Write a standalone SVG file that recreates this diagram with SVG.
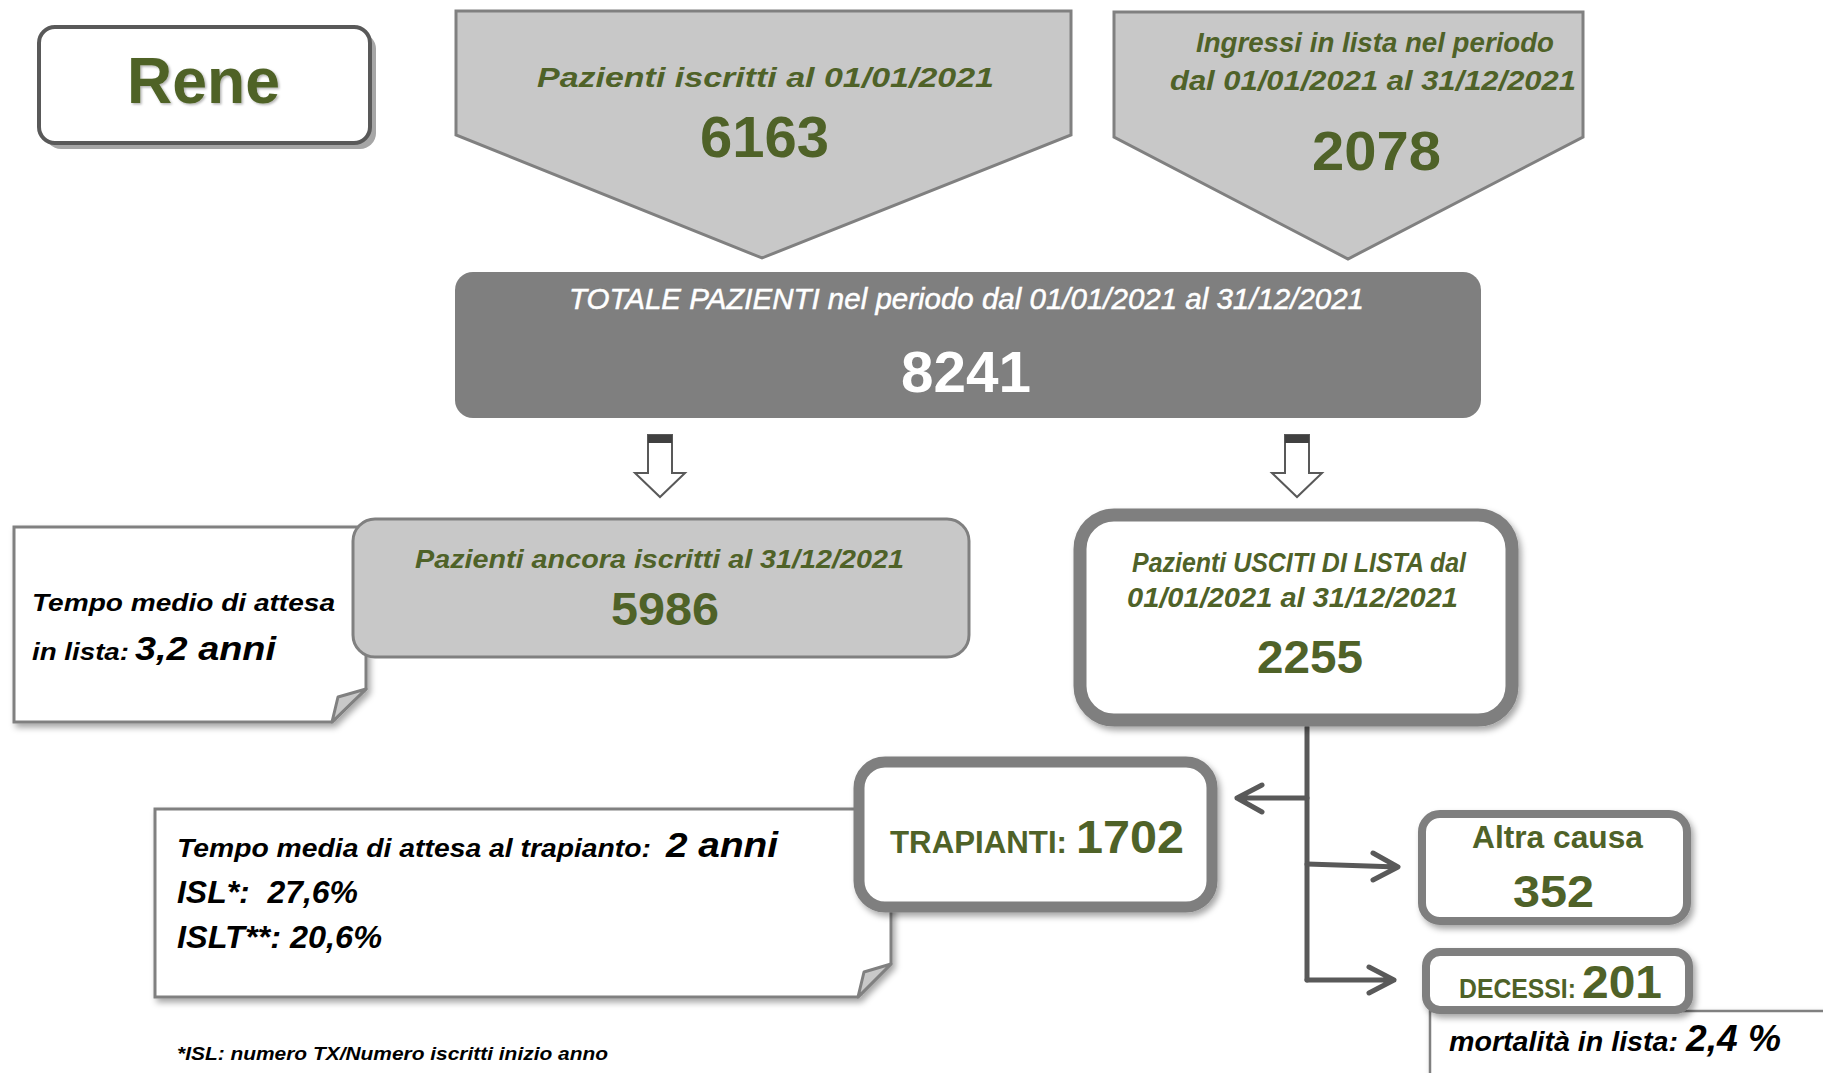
<svg xmlns="http://www.w3.org/2000/svg" width="1823" height="1073" viewBox="0 0 1823 1073">
<defs>
<style>
.g{fill:#4F6228;font-family:"Liberation Sans",Arial,sans-serif;font-weight:bold}
.i{font-style:italic}
.k{fill:#000;font-family:"Liberation Sans",Arial,sans-serif;font-weight:bold;font-style:italic}
.w{fill:#fff;font-family:"Liberation Sans",Arial,sans-serif}
.pent{fill:#C8C8C8;stroke:#808080;stroke-width:3}
.note{fill:#fff;stroke:#808080;stroke-width:3}
.fold{fill:#C8C8C8;stroke:#808080;stroke-width:3;stroke-linejoin:round}
.thick{fill:#fff;stroke:#7F7F7F}
.conn{fill:none;stroke:#595959;stroke-width:5;stroke-linecap:round;stroke-linejoin:round}
.barrow{fill:#fff;stroke:#595959;stroke-width:2}
</style>
<filter id="sh" x="-10%" y="-10%" width="130%" height="140%">
<feDropShadow dx="3" dy="4" stdDeviation="3" flood-color="#000" flood-opacity="0.35"/>
</filter>
<filter id="tsh" x="-10%" y="-10%" width="130%" height="140%">
<feDropShadow dx="1.5" dy="1.5" stdDeviation="1.2" flood-color="#000" flood-opacity="0.3"/>
</filter>
</defs>

<g id="rene">
<rect x="45" y="33" width="331" height="116" rx="16" fill="#A6A6A6"/>
<rect x="39" y="27" width="331" height="116" rx="16" fill="#fff" stroke="#595959" stroke-width="4"/>
<text class="g" x="127" y="103" font-size="64" textLength="153" lengthAdjust="spacingAndGlyphs" filter="url(#tsh)">Rene</text>
</g>

<g id="iscritti-inizio">
<polygon class="pent" points="456,11 1071,11 1071,135 762,258 456,135"/>
<text class="g i" x="537" y="87" font-size="28" textLength="457" lengthAdjust="spacingAndGlyphs">Pazienti iscritti al 01/01/2021</text>
<text class="g" x="700" y="157" font-size="58" textLength="129" lengthAdjust="spacingAndGlyphs">6163</text>
</g>

<g id="ingressi">
<polygon class="pent" points="1114,12 1583,12 1583,137 1348,259 1114,137"/>
<text class="g i" x="1196" y="52" font-size="28" textLength="358" lengthAdjust="spacingAndGlyphs">Ingressi in lista nel periodo</text>
<text class="g i" x="1170" y="90" font-size="28" textLength="406" lengthAdjust="spacingAndGlyphs">dal 01/01/2021 al 31/12/2021</text>
<text class="g" x="1312" y="170" font-size="56" textLength="129" lengthAdjust="spacingAndGlyphs">2078</text>
</g>

<g id="totale">
<rect x="455" y="272" width="1026" height="146" rx="18" fill="#7F7F7F"/>
<text class="w i" x="569" y="309" font-size="29" stroke="#fff" stroke-width="0.5" textLength="795" lengthAdjust="spacingAndGlyphs">TOTALE PAZIENTI nel periodo dal 01/01/2021 al 31/12/2021</text>
<text class="w" x="901" y="392" font-size="58" font-weight="bold" textLength="130" lengthAdjust="spacingAndGlyphs">8241</text>
</g>

<g id="connectors">
<polygon class="barrow" points="648,435 672,435 672,473 685,473 660,497 635,473 648,473"/>
<rect x="648" y="435" width="24" height="8" fill="#404040"/>
<polygon class="barrow" points="1285,435 1309,435 1309,473 1322,473 1297,497 1272,473 1285,473"/>
<rect x="1285" y="435" width="24" height="8" fill="#404040"/>
<path class="conn" d="M1307,727 L1307,980"/>
<path class="conn" d="M1307,798 L1237,798 M1262,785 L1237,798 L1262,812"/>
<path class="conn" d="M1307,864 L1398,867 M1373,853 L1398,867 L1373,880"/>
<path class="conn" d="M1307,980 L1394,980 M1369,967 L1394,980 L1369,993"/>
</g>

<g id="nota-attesa-lista">
<path class="note" filter="url(#sh)" d="M14,527 L366,527 L366,689 L332,722 L14,722 Z"/>
<polygon class="fold" points="366,689 338,697 332,722"/>
<text class="k" x="32" y="611" font-size="24" textLength="303" lengthAdjust="spacingAndGlyphs">Tempo medio di attesa</text>
<text class="k" x="32" y="660" font-size="24" textLength="97" lengthAdjust="spacingAndGlyphs">in lista:</text>
<text class="k" x="135" y="660" font-size="33" textLength="141" lengthAdjust="spacingAndGlyphs">3,2 anni</text>
</g>

<g id="ancora-iscritti">
<rect x="353" y="519" width="616" height="138" rx="22" fill="#C8C8C8" stroke="#808080" stroke-width="3"/>
<text class="g i" x="415" y="568" font-size="26" textLength="489" lengthAdjust="spacingAndGlyphs">Pazienti ancora iscritti al 31/12/2021</text>
<text class="g" x="611" y="625" font-size="46" textLength="108" lengthAdjust="spacingAndGlyphs">5986</text>
</g>

<g id="usciti">
<rect class="thick" filter="url(#sh)" x="1080" y="515" width="432" height="205" rx="34" stroke-width="13"/>
<text class="g i" x="1132" y="572" font-size="27" textLength="334" lengthAdjust="spacingAndGlyphs">Pazienti USCITI DI LISTA dal</text>
<text class="g i" x="1127" y="607" font-size="27" textLength="331" lengthAdjust="spacingAndGlyphs">01/01/2021 al 31/12/2021</text>
<text class="g" x="1257" y="673" font-size="46" textLength="106" lengthAdjust="spacingAndGlyphs">2255</text>
</g>

<g id="nota-trapianto">
<path class="note" filter="url(#sh)" d="M155,809 L891,809 L891,964 L858,997 L155,997 Z"/>
<polygon class="fold" points="891,964 864,972 858,997"/>
<text class="k" x="177" y="857" font-size="26" textLength="474" lengthAdjust="spacingAndGlyphs">Tempo media di attesa al trapianto:</text>
<text class="k" x="666" y="857" font-size="35" textLength="112" lengthAdjust="spacingAndGlyphs">2 anni</text>
<text class="k" x="177" y="903" font-size="31" textLength="181" lengthAdjust="spacingAndGlyphs" xml:space="preserve">ISL*:  27,6%</text>
<text class="k" x="177" y="948" font-size="31" textLength="205" lengthAdjust="spacingAndGlyphs">ISLT**: 20,6%</text>
</g>

<g id="trapianti">
<rect class="thick" filter="url(#sh)" x="859" y="762" width="353" height="145" rx="26" stroke-width="11"/>
<text class="g" x="890" y="853" font-size="31" textLength="177" lengthAdjust="spacingAndGlyphs">TRAPIANTI:</text>
<text class="g" x="1076" y="853" font-size="46" textLength="108" lengthAdjust="spacingAndGlyphs">1702</text>
</g>

<g id="altra-causa">
<rect class="thick" filter="url(#sh)" x="1422" y="814" width="265" height="107" rx="18" stroke-width="8"/>
<text class="g" x="1472" y="848" font-size="32" textLength="171" lengthAdjust="spacingAndGlyphs">Altra causa</text>
<text class="g" x="1513" y="907" font-size="45" textLength="81" lengthAdjust="spacingAndGlyphs">352</text>
</g>

<g id="nota-mortalita">
<rect x="1430" y="1011" width="420" height="100" fill="#fff" stroke="#808080" stroke-width="2.5" filter="url(#sh)"/>
<text class="k" x="1449" y="1051" font-size="28" textLength="229" lengthAdjust="spacingAndGlyphs">mortalità in lista:</text>
<text class="k" x="1686" y="1051" font-size="36" textLength="95" lengthAdjust="spacingAndGlyphs">2,4 %</text>
</g>

<g id="decessi">
<rect class="thick" filter="url(#sh)" x="1426" y="952" width="263" height="58" rx="14" stroke-width="8"/>
<text class="g" x="1459" y="998" font-size="28" textLength="117" lengthAdjust="spacingAndGlyphs">DECESSI:</text>
<text class="g" x="1582" y="998" font-size="46" textLength="80" lengthAdjust="spacingAndGlyphs">201</text>
</g>

<g id="footnote">
<text class="k" x="177" y="1060" font-size="19" textLength="431" lengthAdjust="spacingAndGlyphs">*ISL: numero TX/Numero iscritti inizio anno</text>
</g>
</svg>
